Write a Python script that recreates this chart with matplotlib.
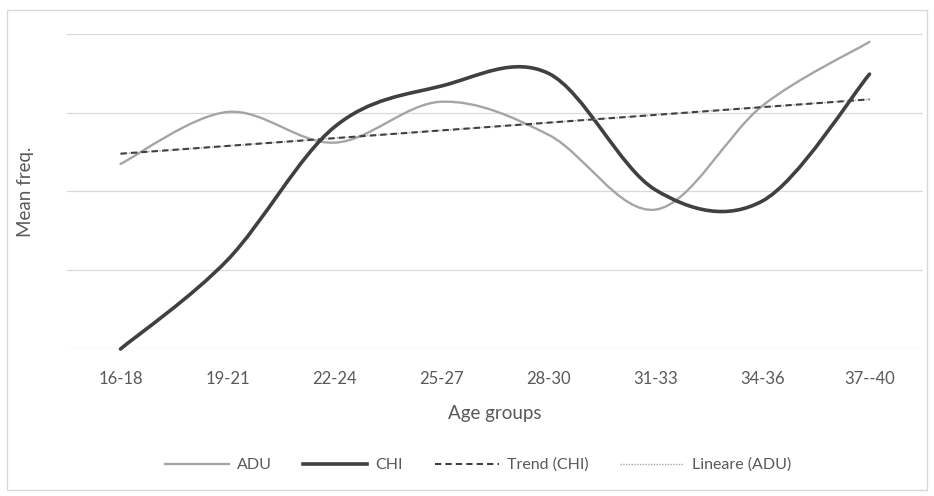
# Mean frequency by age group, smoothed lines with linear trends (Excel style)

import numpy as np
import matplotlib.pyplot as plt
from matplotlib.path import Path
from matplotlib.patches import PathPatch, Rectangle
from matplotlib.lines import Line2D

# Data (one gridline = 1 unit)
age_groups = ['16-18', '19-21', '22-24', '25-27', '28-30', '31-33', '34-36', '37--40']
adu = [2.35, 3.01, 2.62, 3.14, 2.72, 1.77, 3.09, 3.90]
chi = [0.00, 1.13, 2.82, 3.34, 3.50, 2.02, 1.88, 3.49]

GRID = '#d9d9d9'
TEXT = '#595959'
ADU_C = '#a5a5a5'
CHI_C = '#404040'

plt.rcParams['font.family'] = ['Lato', 'DejaVu Sans']


def smooth_path(x, y):
    # Excel-like smoothed line: Catmull-Rom segments as cubic Beziers
    pts = np.column_stack([x, y]).astype(float)
    ext = np.vstack([pts[0], pts, pts[-1]])
    verts = [pts[0]]
    codes = [Path.MOVETO]
    for i in range(1, len(ext) - 2):
        p0, p1, p2, p3 = ext[i - 1], ext[i], ext[i + 1], ext[i + 2]
        verts += [p1 + (p2 - p0) / 6, p2 - (p3 - p1) / 6, p2]
        codes += [Path.CURVE4] * 3
    return Path(verts, codes)


fig = plt.figure(figsize=(9.34, 4.96), dpi=100)
ax = fig.add_axes([67 / 934, 1 - 349 / 496, 856 / 934, 315 / 496])

x = np.arange(len(age_groups))
ax.set_xlim(-0.5, len(age_groups) - 0.5)
ax.set_ylim(0, 4)

# gridlines
for g in range(0, 5):
    ax.axhline(g, color=GRID, lw=0.9, zorder=0)

ax.add_patch(PathPatch(smooth_path(x, adu), fill=False, edgecolor=ADU_C, lw=1.7,
                       capstyle='round', zorder=3, clip_on=False))
ax.add_patch(PathPatch(smooth_path(x, chi), fill=False, edgecolor=CHI_C, lw=2.6,
                       capstyle='round', zorder=4, clip_on=False))

# linear trends (both coincide with the ADU fit in the original)
k, b = np.polyfit(x, adu, 1)
trend = k * x + b
ax.plot(x, trend, color=ADU_C, lw=1.0, ls=(0, (1, 1)), zorder=5)
ax.plot(x, trend, color=CHI_C, lw=1.5, ls=(0, (3, 2)), zorder=5)

for s in ax.spines.values():
    s.set_visible(False)
ax.set_yticks([])
ax.set_xticks(x)
ax.set_xticklabels(age_groups, color=TEXT, fontsize=12)
ax.tick_params(axis='x', length=0, pad=16)
ax.set_xlabel('Age groups', color=TEXT, fontsize=13.5, labelpad=13)
ax.set_ylabel('Mean freq.', color=TEXT, fontsize=13.5, labelpad=24)

handles = [
    Line2D([], [], color=ADU_C, lw=1.7),
    Line2D([], [], color=CHI_C, lw=2.6),
    Line2D([], [], color=CHI_C, lw=1.5, ls=(0, (3, 2))),
    Line2D([], [], color=ADU_C, lw=1.0, ls=(0, (1, 1))),
]
labels = ['ADU', 'CHI', 'Trend (CHI)', 'Lineare (ADU)']
leg = fig.legend(handles, labels, loc='center', bbox_to_anchor=(478 / 934, 1 - 465 / 496),
                 ncol=4, frameon=False, fontsize=11.5, handlelength=4.0,
                 columnspacing=2.0, handletextpad=0.5)
for t in leg.get_texts():
    t.set_color(TEXT)

# chart border
fig.patches.append(Rectangle((7 / 934, 1 - 490 / 496), 920 / 934, 480 / 496,
                             transform=fig.transFigure, fill=False,
                             edgecolor=GRID, lw=1.0))

fig.savefig('out.png', dpi=100)
